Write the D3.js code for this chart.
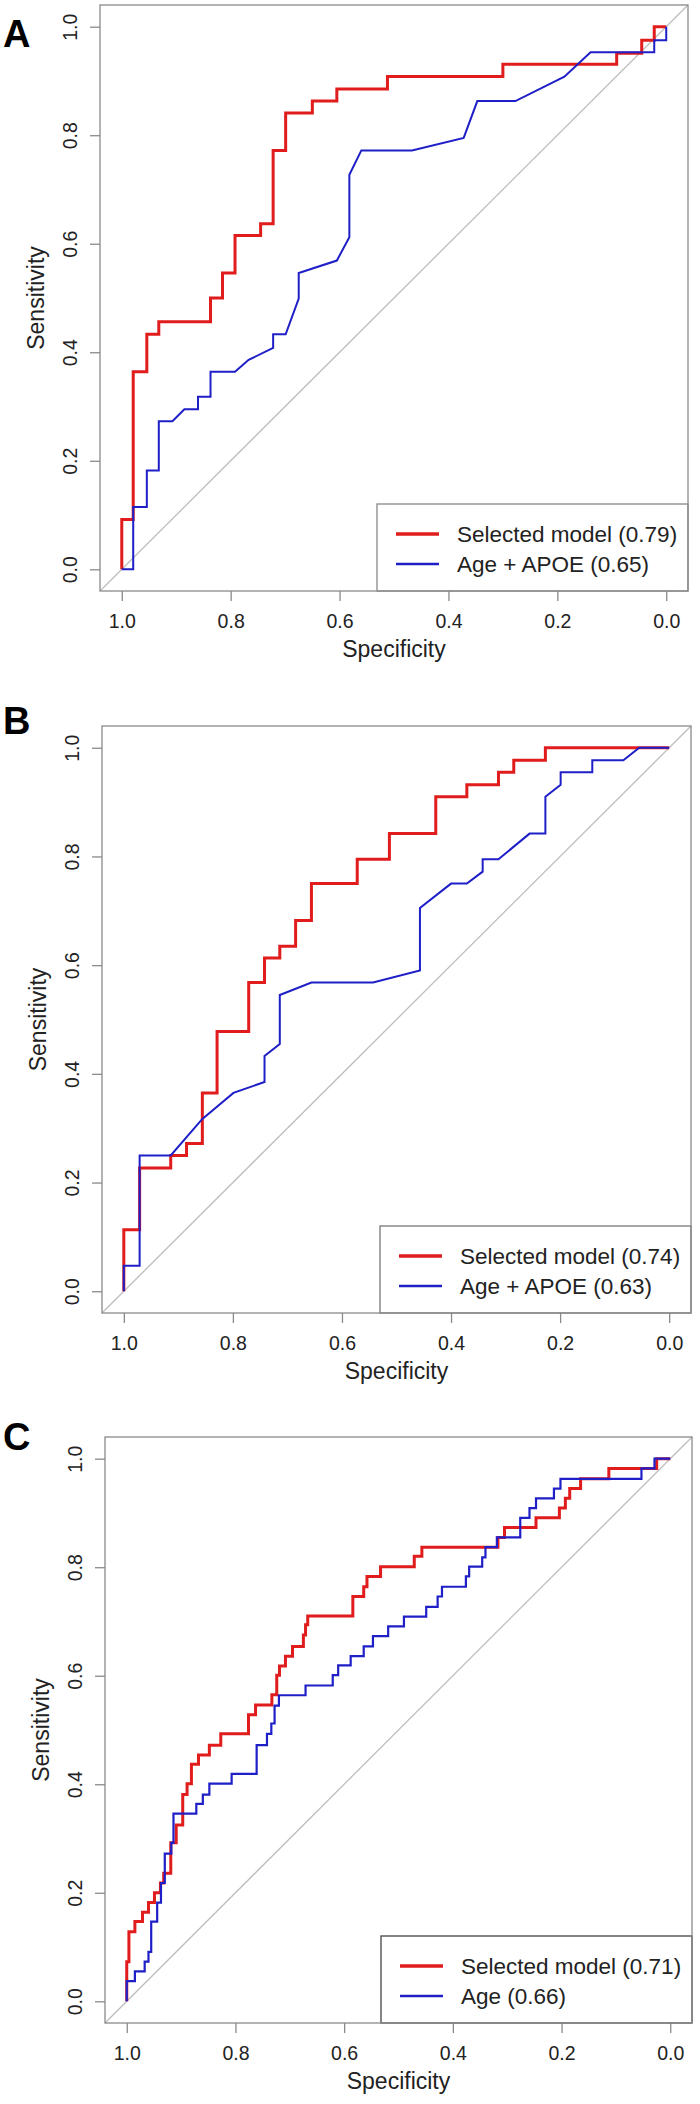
<!DOCTYPE html>
<html><head><meta charset="utf-8">
<script src="https://cdn.jsdelivr.net/npm/d3@7"></script>
<style>
html,body{margin:0;padding:0;background:#fff;}
svg{display:block;}
text{font-family:"Liberation Sans", Arial, sans-serif;}
</style></head><body>
<svg id="chart" width="700" height="2104"></svg>
<script>
// ---------- data ----------
const tickValues = [0, 0.2, 0.4, 0.6, 0.8, 1.0];
const panelLetters = ["A", "B", "C"];

const namesA = ["Selected model", "Age + APOE"];
const aucA = [0.79, 0.65];
const namesB = ["Selected model", "Age + APOE"];
const aucB = [0.74, 0.63];
const namesC = ["Selected model", "Age"];
const aucC = [0.71, 0.66];

// Panel A – selected model (step corners)
const specA_sel = [1, 0.979, 0.954, 0.932, 0.837, 0.815, 0.792, 0.745, 0.722, 0.699, 0.650, 0.605, 0.512, 0.300, 0.091, 0.045, 0.022, 0];
const sensA_sel = [0, 0.092, 0.364, 0.433, 0.456, 0.500, 0.546, 0.615, 0.637, 0.772, 0.841, 0.863, 0.885, 0.908, 0.931, 0.951, 0.975, 1];
// Panel A – Age + APOE (path vertices)
const specA_ref = [1, 0.979, 0.979, 0.954, 0.954, 0.932, 0.932, 0.907, 0.885, 0.860, 0.860, 0.837, 0.837, 0.792, 0.767, 0.722, 0.722, 0.699, 0.675, 0.675, 0.605, 0.582, 0.582, 0.560, 0.467, 0.372, 0.347, 0.277, 0.187, 0.139, 0.022, 0.022, 0, 0];
const sensA_ref = [0, 0, 0.115, 0.115, 0.182, 0.182, 0.273, 0.273, 0.295, 0.295, 0.318, 0.318, 0.364, 0.364, 0.386, 0.408, 0.433, 0.433, 0.499, 0.546, 0.569, 0.612, 0.727, 0.772, 0.772, 0.795, 0.863, 0.863, 0.908, 0.953, 0.953, 0.975, 0.975, 1];

// Panel B – selected model (step corners)
const specB_sel = [1, 0.971, 0.914, 0.885, 0.856, 0.829, 0.771, 0.742, 0.714, 0.685, 0.656, 0.572, 0.513, 0.428, 0.371, 0.313, 0.285, 0.227, 0];
const sensB_sel = [0, 0.113, 0.227, 0.250, 0.272, 0.365, 0.478, 0.568, 0.613, 0.635, 0.682, 0.750, 0.795, 0.842, 0.910, 0.932, 0.955, 0.977, 1];
// Panel B – Age + APOE (path vertices)
const specB_ref = [1, 1, 0.971, 0.971, 0.914, 0.856, 0.799, 0.742, 0.742, 0.714, 0.714, 0.656, 0.543, 0.457, 0.457, 0.400, 0.371, 0.342, 0.342, 0.313, 0.256, 0.227, 0.227, 0.199, 0.199, 0.141, 0.141, 0.084, 0.055, 0];
const sensB_ref = [0, 0.047, 0.047, 0.250, 0.250, 0.317, 0.365, 0.385, 0.433, 0.455, 0.545, 0.568, 0.568, 0.590, 0.705, 0.750, 0.750, 0.772, 0.795, 0.795, 0.842, 0.842, 0.910, 0.932, 0.955, 0.955, 0.977, 0.977, 1, 1];

// Panel C – selected model (step corners)
const specC_sel = [1, 0.996, 0.985, 0.971, 0.960, 0.949, 0.938, 0.932, 0.919, 0.909, 0.897, 0.889, 0.881, 0.868, 0.848, 0.827, 0.776, 0.763, 0.733, 0.724, 0.719, 0.708, 0.695, 0.675, 0.671, 0.667, 0.584, 0.564, 0.558, 0.533, 0.471, 0.457, 0.317, 0.305, 0.247, 0.204, 0.193, 0.185, 0.165, 0.113, 0.025, 0];
const sensC_sel = [0, 0.073, 0.128, 0.147, 0.164, 0.182, 0.200, 0.218, 0.236, 0.292, 0.325, 0.381, 0.401, 0.437, 0.454, 0.472, 0.493, 0.528, 0.546, 0.565, 0.601, 0.618, 0.636, 0.654, 0.675, 0.694, 0.710, 0.746, 0.764, 0.783, 0.801, 0.820, 0.837, 0.855, 0.873, 0.891, 0.909, 0.927, 0.945, 0.963, 0.982, 1];
// Panel C – Age (step corners)
const specC_ref = [1, 0.985, 0.967, 0.960, 0.955, 0.944, 0.937, 0.930, 0.918, 0.914, 0.872, 0.860, 0.848, 0.807, 0.761, 0.742, 0.734, 0.728, 0.720, 0.671, 0.621, 0.611, 0.588, 0.564, 0.547, 0.519, 0.490, 0.449, 0.428, 0.420, 0.376, 0.370, 0.346, 0.340, 0.319, 0.276, 0.259, 0.247, 0.214, 0.202, 0.053, 0.029, 0];
const sensC_ref = [0, 0.037, 0.055, 0.073, 0.091, 0.147, 0.182, 0.218, 0.272, 0.292, 0.346, 0.364, 0.381, 0.401, 0.419, 0.472, 0.493, 0.512, 0.545, 0.564, 0.582, 0.601, 0.619, 0.636, 0.654, 0.673, 0.691, 0.709, 0.727, 0.746, 0.764, 0.783, 0.801, 0.818, 0.837, 0.855, 0.891, 0.909, 0.927, 0.945, 0.963, 0.982, 1];

// ---------- drawing ----------
const RED = "#e01c1c", BLUE = "#1f1fc8";
const svg = d3.select("#chart");

const panels = [
  { letter: panelLetters[0], letterY: 47, box: {x0: 100, x1: 688, y0: 5, y1: 591},
    series: [
      {spec: specA_sel, sens: sensA_sel, curve: d3.curveStepBefore, color: RED, w: 3},
      {spec: specA_ref, sens: sensA_ref, curve: d3.curveLinear, color: BLUE, w: 2}],
    names: namesA, auc: aucA, legendStroke: "#888" },
  { letter: panelLetters[1], letterY: 734, box: {x0: 102, x1: 691, y0: 726, y1: 1313},
    series: [
      {spec: specB_sel, sens: sensB_sel, curve: d3.curveStepBefore, color: RED, w: 3},
      {spec: specB_ref, sens: sensB_ref, curve: d3.curveLinear, color: BLUE, w: 2}],
    names: namesB, auc: aucB, legendStroke: "#777" },
  { letter: panelLetters[2], letterY: 1450, box: {x0: 105, x1: 692, y0: 1437, y1: 2023},
    series: [
      {spec: specC_sel, sens: sensC_sel, curve: d3.curveStepBefore, color: RED, w: 3},
      {spec: specC_ref, sens: sensC_ref, curve: d3.curveStepBefore, color: BLUE, w: 2.2}],
    names: namesC, auc: aucC, legendStroke: "#444" }
];

const fmt = d3.format(".1f");
const AXIS_COL = "#8a8a8a";

panels.forEach(p => {
  const b = p.box;
  const g = svg.append("g");
  const x = d3.scaleLinear().domain([1.04, -0.04]).range([b.x0, b.x1]);
  const y = d3.scaleLinear().domain([-0.04, 1.04]).range([b.y1, b.y0]);

  // diagonal reference line
  g.append("line")
    .attr("x1", x(1.04)).attr("y1", y(-0.04))
    .attr("x2", x(-0.04)).attr("y2", y(1.04))
    .attr("stroke", "#bdbdbd").attr("stroke-width", 1.3);

  // ROC curves
  p.series.forEach(s => {
    const pts = d3.zip(s.spec, s.sens);
    const line = d3.line().x(d => x(d[0])).y(d => y(d[1])).curve(s.curve);
    g.append("path").attr("d", line(pts))
      .attr("fill", "none").attr("stroke", s.color)
      .attr("stroke-width", s.w).attr("stroke-linejoin", "miter");
  });

  // x axis
  const ax = g.append("g").attr("transform", `translate(0,${b.y1})`)
    .call(d3.axisBottom(x).tickValues(tickValues).tickFormat(fmt).tickSize(10).tickPadding(13));
  ax.attr("font-size", null).attr("font-family", null);
  ax.select(".domain").remove();
  ax.selectAll("line").attr("stroke", AXIS_COL).attr("stroke-width", 1.3);
  ax.selectAll("text").attr("font-size", "19.5px").attr("fill", "#222");

  // y axis
  const ay = g.append("g").attr("transform", `translate(${b.x0},0)`)
    .call(d3.axisLeft(y).tickValues(tickValues).tickFormat(fmt).tickSize(10));
  ay.attr("font-size", null).attr("font-family", null);
  ay.select(".domain").remove();
  ay.selectAll("line").attr("stroke", AXIS_COL).attr("stroke-width", 1.3);
  ay.selectAll("text")
    .attr("x", null).attr("dy", "0.36em")
    .attr("text-anchor", "middle")
    .attr("transform", "translate(-30,0) rotate(-90)")
    .attr("font-size", "19.5px").attr("fill", "#222");

  // axis titles
  g.append("text")
    .attr("x", (x(1) + x(0)) / 2).attr("y", b.y1 + 66)
    .attr("text-anchor", "middle").attr("font-size", "23px").attr("fill", "#222")
    .text("Specificity");
  g.append("text")
    .attr("transform", `translate(${b.x0 - 56},${(y(1) + y(0)) / 2}) rotate(-90)`)
    .attr("text-anchor", "middle").attr("font-size", "23px").attr("fill", "#222")
    .text("Sensitivity");

  // legend
  const lw = 311, lh = 87;
  const lg = g.append("g").attr("transform", `translate(${b.x1 - lw},${b.y1 - lh})`);
  lg.append("rect").attr("width", lw).attr("height", lh)
    .attr("fill", "#fff").attr("stroke", p.legendStroke).attr("stroke-width", 1.3);
  p.series.forEach((s, i) => {
    const ly = 30 + i * 30;
    lg.append("line").attr("x1", 19).attr("x2", 62).attr("y1", ly).attr("y2", ly)
      .attr("stroke", s.color).attr("stroke-width", s.w + 0.5);
    lg.append("text").attr("x", 80).attr("y", ly).attr("dy", "0.36em")
      .attr("font-size", "22.5px").attr("fill", "#222")
      .text(`${p.names[i]} (${p.auc[i].toFixed(2)})`);
  });

  // plot box
  g.append("rect").attr("x", b.x0).attr("y", b.y0)
    .attr("width", b.x1 - b.x0).attr("height", b.y1 - b.y0)
    .attr("fill", "none").attr("stroke", AXIS_COL).attr("stroke-width", 1.3);

  // panel letter
  svg.append("text").attr("x", 3).attr("y", p.letterY)
    .attr("font-size", "38px").attr("font-weight", "bold").attr("fill", "#000")
    .text(p.letter);
});
</script>
</body></html>
